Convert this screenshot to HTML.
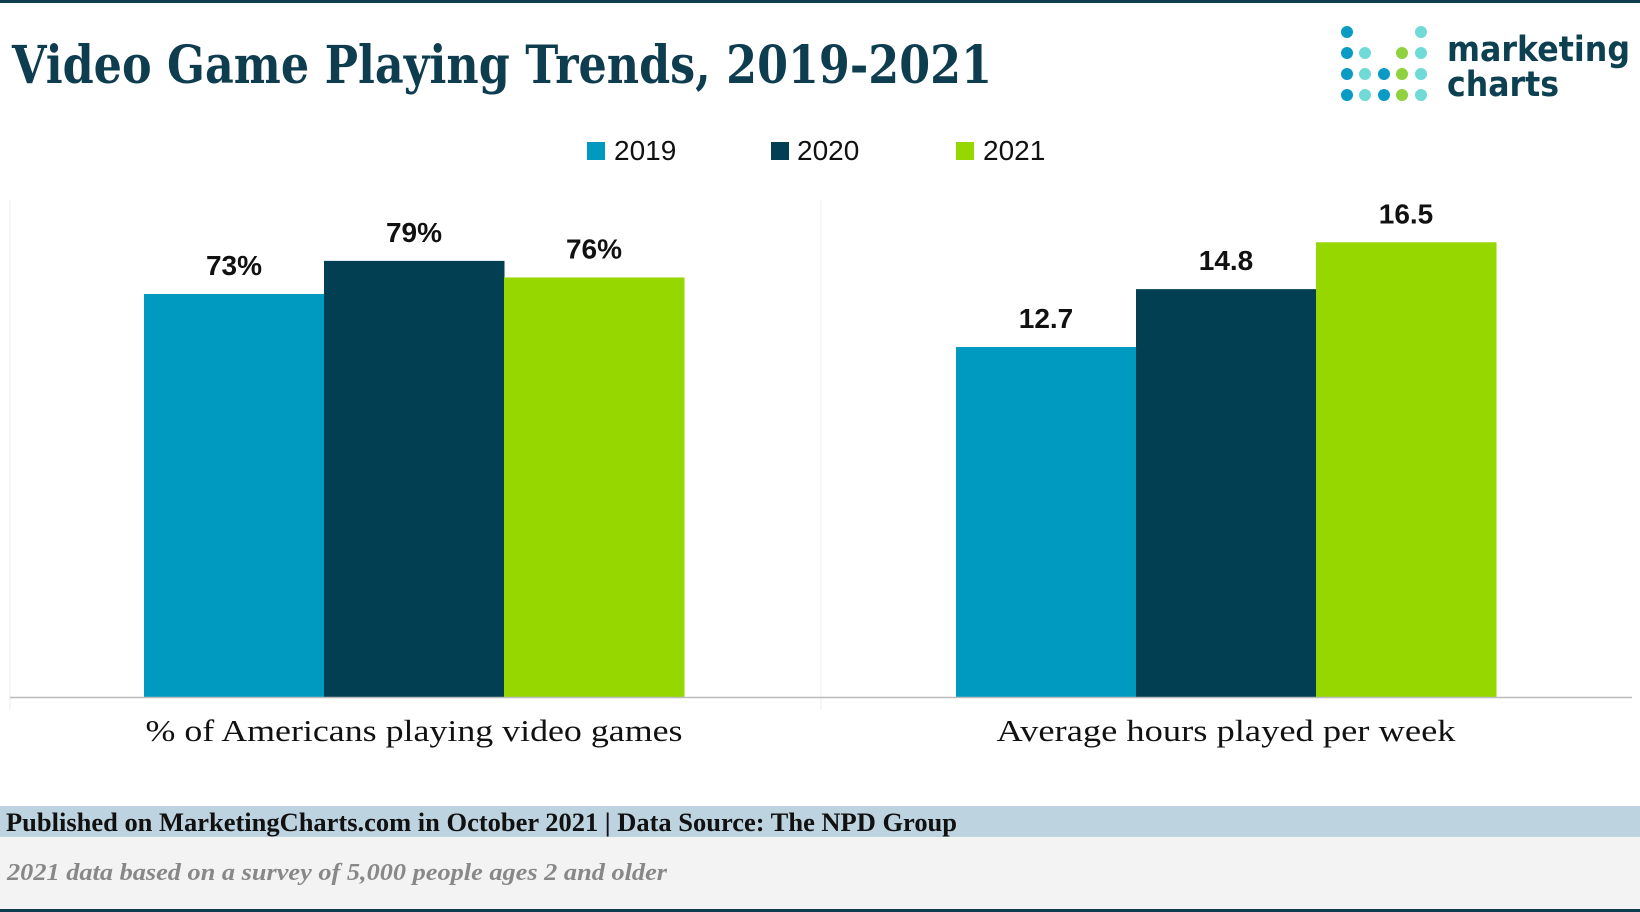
<!DOCTYPE html>
<html><head><meta charset="utf-8"><style>
html,body{margin:0;padding:0;background:#fff;}
svg{display:block;}
</style></head><body>
<svg id="chart" width="1640" height="912" xmlns="http://www.w3.org/2000/svg">
<rect x="0" y="0" width="1640" height="3" fill="#0d3d4f"/>
<text x="12" y="83" font-family="'DejaVu Serif', serif" font-weight="bold" font-size="52" fill="#0d3d4f" textLength="980" lengthAdjust="spacingAndGlyphs">Video Game Playing Trends, 2019-2021</text>
<g id="logo">
<text x="1447" y="61" font-family="'DejaVu Sans', sans-serif" font-weight="bold" font-size="35" fill="#0d4050" textLength="183" lengthAdjust="spacingAndGlyphs">marketing</text>
<text x="1447" y="96" font-family="'DejaVu Sans', sans-serif" font-weight="bold" font-size="35" fill="#0d4050" textLength="112" lengthAdjust="spacingAndGlyphs">charts</text>
</g>
<g>
<rect x="587" y="142" width="18" height="18" fill="#0099c0"/>
<text x="614" y="160" font-family="'Liberation Sans', sans-serif" font-size="28" fill="#111">2019</text>
<rect x="771" y="142" width="18" height="18" fill="#033f52"/>
<text x="797" y="160" font-family="'Liberation Sans', sans-serif" font-size="28" fill="#111">2020</text>
<rect x="956" y="142" width="18" height="18" fill="#97d700"/>
<text x="983" y="160" font-family="'Liberation Sans', sans-serif" font-size="28" fill="#111">2021</text>
</g>
<line x1="10" y1="200" x2="10" y2="710" stroke="#eee" stroke-width="1"/>
<line x1="821" y1="200" x2="821" y2="710" stroke="#eee" stroke-width="1"/>
<g id="bars"></g>
<line x1="10" y1="697.5" x2="1632" y2="697.5" stroke="#bbb" stroke-width="1.5"/>
<rect x="0" y="806" width="1640" height="31" fill="#bdd3df"/>
<text x="6" y="831" font-family="'Liberation Serif', serif" font-weight="bold" font-size="26" fill="#111" textLength="951" lengthAdjust="spacingAndGlyphs">Published on MarketingCharts.com in October 2021 | Data Source: The NPD Group</text>
<rect x="0" y="837" width="1640" height="72" fill="#f3f3f3"/>
<text x="7" y="880" font-family="'Liberation Serif', serif" font-style="italic" font-weight="bold" font-size="24" fill="#888" textLength="660" lengthAdjust="spacingAndGlyphs">2021 data based on a survey of 5,000 people ages 2 and older</text>
<rect x="0" y="909" width="1640" height="3" fill="#0d3d4f"/>
</svg>
<script>
const categories = ["% of Americans playing video games", "Average hours played per week"];
const series2019 = [73, 12.7];
const series2020 = [79, 14.8];
const series2021 = [76, 16.5];
const valueLabels2019 = ["73%", "12.7"];
const valueLabels2020 = ["79%", "14.8"];
const valueLabels2021 = ["76%", "16.5"];
const seriesNames = ["2019", "2020", "2021"];

const NS = "http://www.w3.org/2000/svg";
const colors = ["#0099c0", "#033f52", "#97d700"];
const baseY = 697;
const panelScale = [403 / 73, 350 / 12.7];
const groupLeft = [144, 956];
const labelWidths = [537, 459];
const barW = 180;
function yScale(panel, v) { return baseY - v * panelScale[panel]; }
function xScale(panel, s) { return groupLeft[panel] + s * barW; }

const g = document.getElementById("bars");
const allSeries = [series2019, series2020, series2021];
const allLabels = [valueLabels2019, valueLabels2020, valueLabels2021];
categories.forEach((cat, p) => {
  allSeries.forEach((ser, s) => {
    const y = yScale(p, ser[p]);
    const r = document.createElementNS(NS, "rect");
    r.setAttribute("x", xScale(p, s));
    r.setAttribute("y", y);
    r.setAttribute("width", barW + 0.5);
    r.setAttribute("height", baseY - y);
    r.setAttribute("fill", colors[s]);
    
    
    g.appendChild(r);
    const t = document.createElementNS(NS, "text");
    t.setAttribute("x", xScale(p, s) + barW / 2);
    t.setAttribute("y", y - 19);
    t.setAttribute("text-anchor", "middle");
    t.setAttribute("font-family", "'Liberation Sans', sans-serif");
    t.setAttribute("font-weight", "bold");
    t.setAttribute("font-size", "28");
    t.setAttribute("fill", "#111");
    t.textContent = allLabels[s][p];
    
    
    g.appendChild(t);
  });
  const c = document.createElementNS(NS, "text");
  c.setAttribute("x", groupLeft[p] + barW * 1.5);
  c.setAttribute("y", 741);
  c.setAttribute("text-anchor", "middle");
  c.setAttribute("font-family", "'Liberation Serif', serif");
  c.setAttribute("font-size", "31");
  c.setAttribute("fill", "#111");
  c.setAttribute("textLength", labelWidths[p]);
  c.setAttribute("lengthAdjust", "spacingAndGlyphs");
  c.textContent = cat;
  
  
  g.appendChild(c);
});

const logo = document.getElementById("logo");
const dotCols = [1347, 1365, 1384, 1402, 1421];
const dotRows = [32, 53, 74, 95];
const dotColors = [
  ["b", null, null, null, "t"],
  ["b", "t", null, "g", "t"],
  ["b", "t", "b", "g", "t"],
  ["b", "t", "b", "g", "t"]
];
const cmap = { b: "#0a9bc4", t: "#6fdad6", g: "#8fd13f" };
dotColors.forEach((row, ri) => row.forEach((c, ci) => {
  if (!c) return;
  const d = document.createElementNS(NS, "circle");
  d.setAttribute("cx", dotCols[ci]);
  d.setAttribute("cy", dotRows[ri]);
  d.setAttribute("r", 6);
  d.setAttribute("fill", cmap[c]);
  
  
  logo.appendChild(d);
}));
</script>
</body></html>
